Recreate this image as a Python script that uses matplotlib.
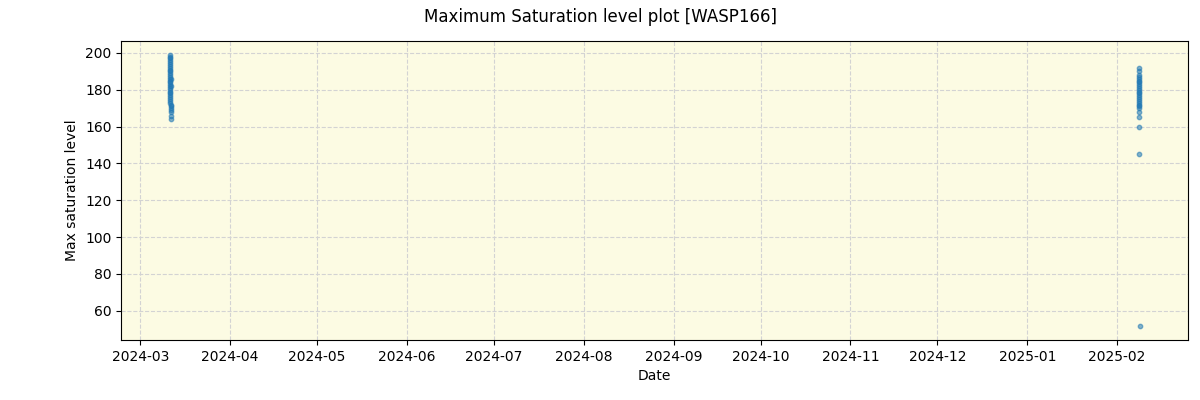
import matplotlib
matplotlib.use("Agg")
import matplotlib.pyplot as plt
import matplotlib.dates as mdates
import pandas as pd

# Night 1: 2024-03-11
night1_times = ["2024-03-11 03:10", "2024-03-11 03:25", "2024-03-11 03:40", "2024-03-11 03:55",
                "2024-03-11 04:10", "2024-03-11 04:25", "2024-03-11 04:40", "2024-03-11 04:55",
                "2024-03-11 05:10", "2024-03-11 05:25", "2024-03-11 05:40", "2024-03-11 05:55",
                "2024-03-11 06:10", "2024-03-11 06:25", "2024-03-11 06:40", "2024-03-11 06:55",
                "2024-03-11 07:10", "2024-03-11 07:25", "2024-03-11 07:40", "2024-03-11 07:55",
                "2024-03-11 08:10", "2024-03-11 08:25", "2024-03-11 08:40", "2024-03-11 08:55",
                "2024-03-11 09:10", "2024-03-11 09:25", "2024-03-11 09:40", "2024-03-11 09:55",
                "2024-03-11 10:10", "2024-03-11 10:25", "2024-03-11 10:40", "2024-03-11 10:55",
                "2024-03-11 11:10", "2024-03-11 11:25", "2024-03-11 11:40", "2024-03-11 11:55"]
night1_vals = [199, 198, 197, 196, 195, 194, 193, 192, 191, 190,
               189, 188, 187, 186, 185, 184, 183, 182, 181, 180,
               179, 178, 177, 176, 175, 174, 173, 172, 171, 170,
               169, 168, 166, 164, 186, 182]

# Night 2: 2025-02-08
night2_times = ["2025-02-08 09:10", "2025-02-08 09:30", "2025-02-08 09:50", "2025-02-08 10:10",
                "2025-02-08 10:30", "2025-02-08 10:50", "2025-02-08 11:10", "2025-02-08 11:30",
                "2025-02-08 11:50", "2025-02-08 12:10", "2025-02-08 12:30", "2025-02-08 12:50",
                "2025-02-08 13:10", "2025-02-08 13:30", "2025-02-08 13:50", "2025-02-08 14:10",
                "2025-02-08 14:30", "2025-02-08 14:50", "2025-02-08 15:10", "2025-02-08 15:30",
                "2025-02-08 15:50", "2025-02-08 16:10", "2025-02-08 16:30", "2025-02-08 16:50",
                "2025-02-08 17:10", "2025-02-08 17:30"]
night2_vals = [192, 190, 188, 187, 186, 185, 184, 183, 182, 181,
               180, 179, 178, 177, 176, 175, 174, 173, 172, 171,
               170, 168, 165, 160, 145, 51.5]

dates = pd.to_datetime(night1_times + night2_times)
values = night1_vals + night2_vals

fig, ax = plt.subplots(figsize=(12, 4), dpi=100)
fig.subplots_adjust(left=0.101, right=0.99, top=0.897, bottom=0.15)
ax.set_facecolor("#fcfbe3")
ax.scatter(dates, values, s=10, alpha=0.55, color="tab:blue")
ax.grid(True, linestyle="--", color="lightgray")
ax.set_axisbelow(True)
ax.xaxis.set_major_locator(mdates.MonthLocator())
ax.xaxis.set_major_formatter(mdates.DateFormatter("%Y-%m"))
ax.set_xlabel("Date")
ax.set_ylabel("Max saturation level")
fig.suptitle("Maximum Saturation level plot [WASP166]")
fig.savefig("out.png")
